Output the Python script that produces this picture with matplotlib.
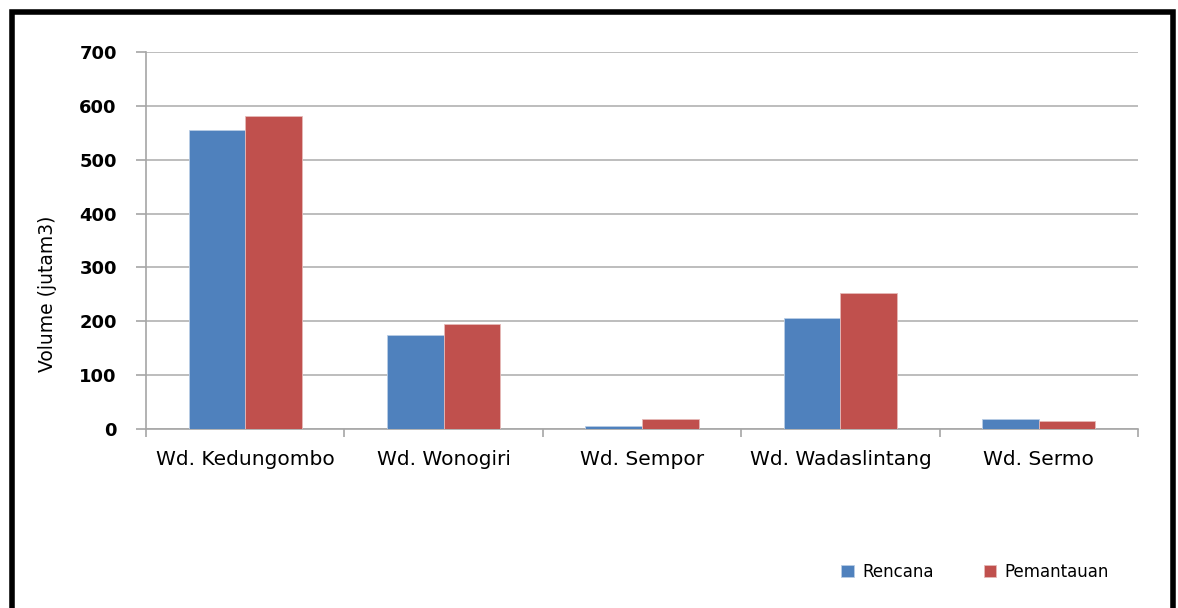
import matplotlib
matplotlib.use("Agg")
import matplotlib.pyplot as plt
import matplotlib.patches as mpatches
import numpy as np

categories = ["Wd. Kedungombo", "Wd. Wonogiri", "Wd. Sempor", "Wd. Wadaslintang", "Wd. Sermo"]
rencana = [555, 175, 5, 207, 18]
pemantauan = [581, 195, 18, 253, 15]
series_names = ["Rencana", "Pemantauan"]
yticks = [0, 100, 200, 300, 400, 500, 600, 700]

blue = "#4F81BD"
red = "#C0504D"

fig = plt.figure(figsize=(11.78, 6.08), dpi=100)
fig.patch.set_facecolor("white")
ax = fig.add_axes([146/1178, 1-429/608, (1138-146)/1178, (429-52)/608])

x = np.arange(len(categories))
w = 0.285
ax.bar(x - w/2, rencana, w, color=blue, edgecolor="#B9CDE5", linewidth=0.6, label=series_names[0], zorder=3)
ax.bar(x + w/2, pemantauan, w, color=red, edgecolor="#E6B9B8", linewidth=0.6, label=series_names[1], zorder=3)

ax.set_xlim(-0.5, len(categories) - 0.5)
ax.set_ylim(0, 700)
ax.set_yticks(yticks)
ax.set_yticklabels([str(v) for v in yticks], fontsize=13, fontweight="bold", family="DejaVu Sans")
ax.yaxis.grid(True, color="#ABABAB", linewidth=1.1, zorder=0)
ax.set_axisbelow(True)

ax.set_xticks(np.arange(-0.5, len(categories), 1.0))
ax.set_xticklabels([])
ax.set_xticks(x, minor=True)
ax.set_xticklabels(categories, minor=True, fontsize=14.5, family="DejaVu Sans")
ax.tick_params(axis="x", which="minor", length=0, pad=15)
ax.tick_params(axis="x", which="major", length=6, color="#A6A6A6", width=1.2, direction="out")
ax.tick_params(axis="y", length=7, color="#A6A6A6", width=1.2, pad=14)

for s in ["top", "right"]:
    ax.spines[s].set_visible(False)
ax.spines["left"].set_color("#A6A6A6")
ax.spines["bottom"].set_color("#A6A6A6")
ax.spines["left"].set_linewidth(1.2)
ax.spines["bottom"].set_linewidth(1.2)

ax.set_ylabel("Volume (jutam3)", fontsize=13.5, family="DejaVu Sans")
ax.yaxis.set_label_coords((57-146)/992, (429-294)/377)

leg = fig.legend(loc="center", bbox_to_anchor=(975/1178, 1-572/608), ncol=2, frameon=False,
                 fontsize=12, handlelength=0.75, handleheight=0.75, columnspacing=3.0, handletextpad=0.5)

border = mpatches.Rectangle((12/1178, -0.05), (1173-12)/1178, 1.05 - 12/608, transform=fig.transFigure,
                            fill=False, edgecolor="black", linewidth=4, clip_on=False)
fig.patches.append(border)

fig.savefig("out.png", dpi=100, facecolor="white")
